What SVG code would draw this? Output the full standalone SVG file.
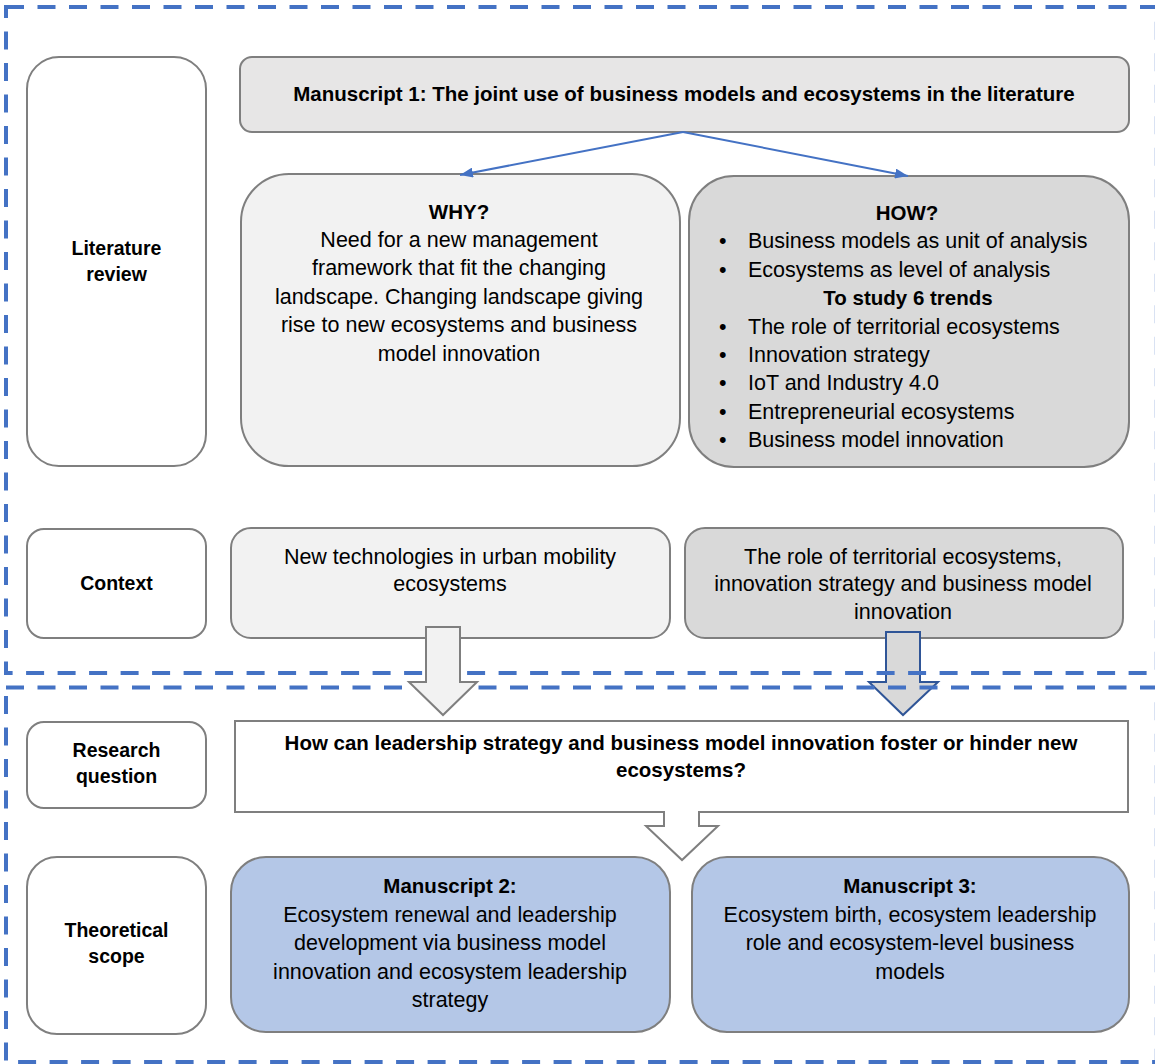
<svg xmlns="http://www.w3.org/2000/svg" width="1155" height="1064" viewBox="0 0 1155 1064">
<defs>
<style>
.box{stroke:#7F7F7F;stroke-width:2}
.frame{fill:none;stroke:#4472C4;stroke-width:4;stroke-dasharray:18 13.5}
.t{font-family:"Liberation Sans",Arial,sans-serif;font-size:21.5px;fill:#000;text-anchor:middle}
.tl{font-family:"Liberation Sans",Arial,sans-serif;font-size:21.5px;fill:#000}
.b{font-family:"Liberation Sans",Arial,sans-serif;font-size:20.5px;font-weight:bold;fill:#000;text-anchor:middle}
.lab{font-family:"Liberation Sans",Arial,sans-serif;font-size:19.5px;font-weight:bold;fill:#000;text-anchor:middle}
.conn{stroke:#4472C4;stroke-width:2;fill:none}
</style>
<marker id="ah" viewBox="0 0 13 10" refX="13" refY="5" markerWidth="13" markerHeight="10" markerUnits="userSpaceOnUse" orient="auto">
<path d="M0,0 L13,5 L0,10 z" fill="#4472C4"/>
</marker>
</defs>
<rect width="1155" height="1064" fill="#FFFFFF"/>

<g id="label-literature">
<rect class="box" x="27" y="57" width="179" height="409" rx="32" fill="#FFFFFF"/>
<text class="lab" x="116.5" y="255">Literature</text>
<text class="lab" x="116.5" y="281">review</text>
</g>
<g id="label-context">
<rect class="box" x="27" y="529" width="179" height="109" rx="17" fill="#FFFFFF"/>
<text class="lab" x="116.5" y="590">Context</text>
</g>
<g id="label-research">
<rect class="box" x="27" y="722" width="179" height="86" rx="17" fill="#FFFFFF"/>
<text class="lab" x="116.5" y="757">Research</text>
<text class="lab" x="116.5" y="783">question</text>
</g>
<g id="label-theoretical">
<rect class="box" x="27" y="857" width="179" height="177" rx="30" fill="#FFFFFF"/>
<text class="lab" x="116.5" y="937">Theoretical</text>
<text class="lab" x="116.5" y="963">scope</text>
</g>

<g id="manuscript1">
<rect class="box" x="240" y="57" width="889" height="75" rx="12" fill="#E7E6E6"/>
<text class="b" x="684" y="101">Manuscript 1: The joint use of business models and ecosystems in the literature</text>
</g>

<g id="why">
<rect class="box" x="241" y="174" width="439" height="292" rx="48" fill="#F2F2F2"/>
<text class="b" x="459" y="219">WHY?</text>
<text class="t" x="459" y="247">Need for a new management</text>
<text class="t" x="459" y="275">framework that fit the changing</text>
<text class="t" x="459" y="304">landscape. Changing landscape giving</text>
<text class="t" x="459" y="332">rise to new ecosystems and business</text>
<text class="t" x="459" y="361">model innovation</text>
</g>

<g id="how">
<rect class="box" x="689" y="176" width="440" height="291" rx="45" fill="#D9D9D9"/>
<text class="b" x="907" y="220">HOW?</text>
<text class="tl" x="719" y="248">•</text><text class="tl" x="748" y="248">Business models as unit of analysis</text>
<text class="tl" x="719" y="277">•</text><text class="tl" x="748" y="277">Ecosystems as level of analysis</text>
<text class="b" x="908" y="305">To study 6 trends</text>
<text class="tl" x="719" y="334">•</text><text class="tl" x="748" y="334">The role of territorial ecosystems</text>
<text class="tl" x="719" y="362">•</text><text class="tl" x="748" y="362">Innovation strategy</text>
<text class="tl" x="719" y="390">•</text><text class="tl" x="748" y="390">IoT and Industry 4.0</text>
<text class="tl" x="719" y="419">•</text><text class="tl" x="748" y="419">Entrepreneurial ecosystems</text>
<text class="tl" x="719" y="447">•</text><text class="tl" x="748" y="447">Business model innovation</text>
</g>

<g id="context-left">
<rect class="box" x="231" y="528" width="439" height="110" rx="20" fill="#F2F2F2"/>
<text class="t" x="450" y="564">New technologies in urban mobility</text>
<text class="t" x="450" y="591">ecosystems</text>
</g>

<g id="context-right">
<rect class="box" x="685" y="528" width="438" height="110" rx="20" fill="#D9D9D9"/>
<text class="t" x="903" y="564">The role of territorial ecosystems,</text>
<text class="t" x="903" y="591">innovation strategy and business model</text>
<text class="t" x="903" y="619">innovation</text>
</g>

<g id="manuscript2">
<rect class="box" x="231" y="857" width="439" height="175" rx="35" fill="#B4C7E7"/>
<text class="b" x="450" y="893">Manuscript 2:</text>
<text class="t" x="450" y="921.5">Ecosystem renewal and leadership</text>
<text class="t" x="450" y="950">development via business model</text>
<text class="t" x="450" y="978.5">innovation and ecosystem leadership</text>
<text class="t" x="450" y="1007">strategy</text>
</g>

<g id="manuscript3">
<rect class="box" x="692" y="857" width="437" height="175" rx="35" fill="#B4C7E7"/>
<text class="b" x="910" y="893">Manuscript 3:</text>
<text class="t" x="910" y="921.5">Ecosystem birth, ecosystem leadership</text>
<text class="t" x="910" y="950">role and ecosystem-level business</text>
<text class="t" x="910" y="978.5">models</text>
</g>

<g id="research-question">
<path class="box" d="M235,721 H1128 V812 H699 V826 H718 L682,860 L646,826 H664 V812 H235 Z" fill="#FFFFFF"/>
<text class="b" x="681" y="750">How can leadership strategy and business model innovation foster or hinder new</text>
<text class="b" x="681" y="777">ecosystems?</text>
</g>

<g id="connectors">
<polygon id="arrow-right" points="886,632 920,632 920,682 938,682 903,715 869,682 886,682" fill="#D9D9D9" stroke="#2F5597" stroke-width="2"/>
<line class="conn" x1="683" y1="132" x2="460" y2="175" marker-end="url(#ah)"/>
<line class="conn" x1="683" y1="132" x2="908" y2="176" marker-end="url(#ah)"/>
</g>

<g id="frames">
<rect class="frame" x="6" y="7" width="1150.8" height="666"/>
<rect class="frame" x="6" y="687.5" width="1150.8" height="374.5"/>
</g>

<g id="connectors-top">
<polygon id="arrow-left" points="426,627 460,627 460,682 477,682 443,715 409,682 426,682" fill="#F2F2F2" stroke="#7F7F7F" stroke-width="2"/>
</g>
</svg>
